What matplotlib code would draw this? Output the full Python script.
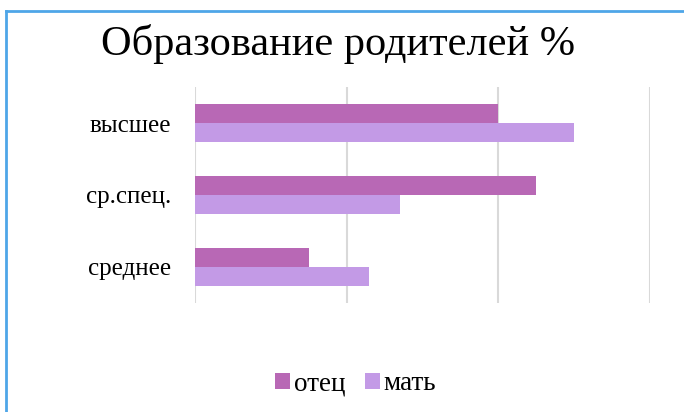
import numpy as np
import matplotlib
matplotlib.use('Agg')
import matplotlib.pyplot as plt

categories = ['среднее', 'ср.спец.', 'высшее']
father = [15, 45, 40]
mother = [23, 27, 50]
series_names = ['отец', 'мать']

FATHER_COLOR = '#B868B5'
MOTHER_COLOR = '#C39AE6'

plt.rcParams['font.family'] = ['Liberation Serif', 'DejaVu Serif']

fig = plt.figure(figsize=(6.84, 4.12), dpi=100)
ax = fig.add_axes([195 / 684, 1 - 303 / 412, 455 / 684, 216 / 412])

y = np.arange(len(categories))
h = 0.265
ax.barh(y + h / 2, father, height=h, color=FATHER_COLOR, label=series_names[0], zorder=3)
ax.barh(y - h / 2, mother, height=h, color=MOTHER_COLOR, label=series_names[1], zorder=3)

ax.set_xlim(0, 60)
ax.set_ylim(-0.5, 2.5)
ax.set_xticks([0, 20, 40, 60])
ax.set_xticklabels([])
ax.set_yticks(y)
ax.set_yticklabels(categories, fontsize=18)
ax.tick_params(axis='y', length=0, pad=17)
ax.tick_params(axis='x', length=0)
ax.grid(axis='x', color='#D9D9D9', linewidth=1.5, zorder=0)
for s in ax.spines.values():
    s.set_visible(False)

fig.text(338 / 684, 1 - 44 / 412, 'Образование родителей %', ha='center', va='center',
         fontsize=30.5)

fig.legend(loc='center', bbox_to_anchor=(356 / 684, 1 - 384 / 412), ncol=2, frameon=False,
           fontsize=19.5, handlelength=0.55, handleheight=0.55, handletextpad=0.15,
           columnspacing=0.7)

# outer border (top and left edges visible in the reference)
fig.add_artist(plt.Line2D([6 / 684, 1], [1 - 11 / 412, 1 - 11 / 412], color='#4EA6E8',
                          linewidth=2, transform=fig.transFigure))
fig.add_artist(plt.Line2D([6 / 684, 6 / 684], [0, 1 - 11 / 412], color='#4EA6E8',
                          linewidth=2, transform=fig.transFigure))

fig.savefig('out.png', dpi=100, facecolor='white')
